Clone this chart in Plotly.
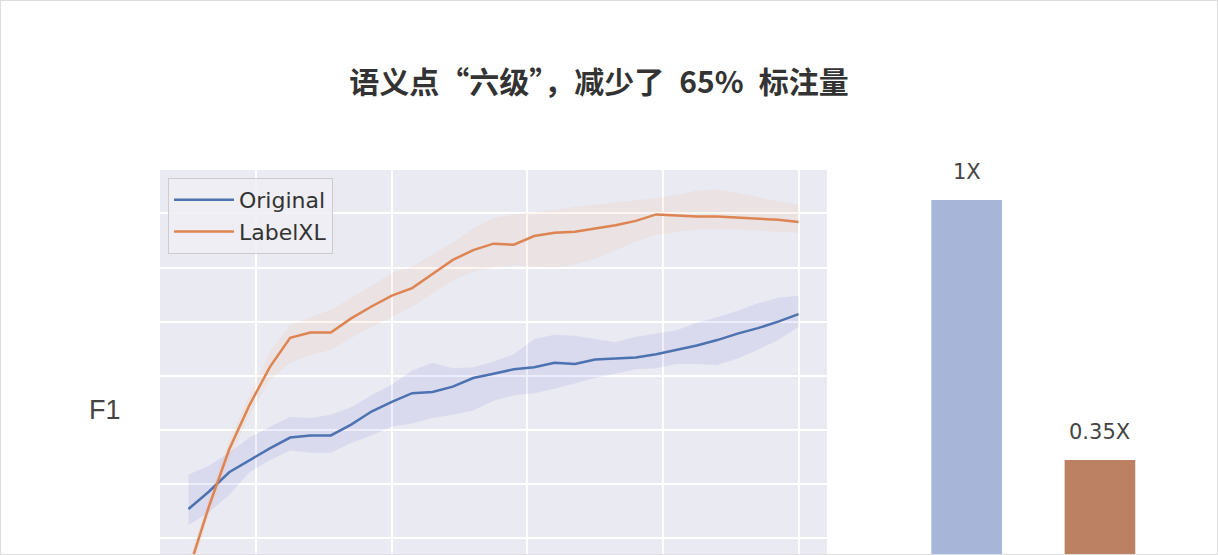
import plotly.graph_objects as go

# x: share of labelled data (%), one point every 3
steps = list(range(10, 101, 3))

original = [47.7, 49.3, 51.1, 52.2, 53.3, 54.3, 54.5, 54.5, 55.5, 56.7, 57.6, 58.4, 58.5, 59.0, 59.8, 60.2,
            60.6, 60.8, 61.2, 61.1, 61.5, 61.6, 61.7, 62.0, 62.4, 62.8, 63.3, 63.9, 64.4, 65.0, 65.7]
original_hi = [50.9, 51.7, 52.9, 54.3, 55.3, 56.2, 56.1, 56.4, 57.1, 58.2, 59.2, 60.5, 61.2, 60.7, 60.8, 61.3,
               62.0, 63.4, 63.8, 63.7, 63.4, 63.1, 63.6, 63.9, 64.2, 64.9, 65.4, 66.0, 66.7, 67.2, 67.4]
original_lo = [46.2, 47.4, 49.0, 51.1, 52.2, 53.1, 52.9, 52.9, 53.8, 54.5, 55.3, 55.6, 56.1, 56.4, 56.8, 57.7,
               58.2, 58.4, 58.8, 59.3, 59.8, 60.2, 60.6, 60.7, 61.1, 61.1, 61.0, 61.6, 62.4, 63.3, 64.5]

labelxl = [42.0, 47.9, 53.2, 57.3, 60.8, 63.5, 64.0, 64.0, 65.3, 66.4, 67.4, 68.1, 69.4, 70.7, 71.6, 72.2,
           72.1, 72.9, 73.2, 73.3, 73.6, 73.9, 74.3, 74.9, 74.8, 74.7, 74.7, 74.6, 74.5, 74.4, 74.2]
labelxl_hi = [42.8, 48.7, 54.0, 58.2, 62.2, 64.7, 65.4, 66.1, 67.2, 68.3, 69.5, 70.1, 71.2, 72.3, 73.6, 74.6,
              74.9, 75.1, 75.3, 75.6, 75.8, 76.0, 76.2, 76.4, 76.7, 77.1, 77.2, 76.9, 76.5, 76.1, 75.8]
labelxl_lo = [41.2, 47.1, 52.2, 56.4, 59.6, 61.2, 61.9, 62.4, 63.5, 64.5, 65.4, 66.4, 67.6, 68.8, 69.6, 70.0,
              70.2, 70.1, 70.0, 70.3, 70.8, 71.6, 72.4, 73.0, 73.3, 73.5, 73.5, 73.5, 73.4, 73.3, 73.2]

# annotation cost, relative
cost_names = ["Original", "LabelXL"]
cost_values = [1.0, 0.35]
cost_labels = ["1X", "0.35X"]

W, H = 1218, 555
fig = go.Figure()

# shaded bands first so the lines sit on top
fig.add_trace(go.Scatter(x=steps + steps[::-1], y=original_hi + original_lo[::-1],
                         fill="toself", fillcolor="rgba(110,110,220,0.12)",
                         line=dict(width=0), hoverinfo="skip", showlegend=False))
fig.add_trace(go.Scatter(x=steps + steps[::-1], y=labelxl_hi + labelxl_lo[::-1],
                         fill="toself", fillcolor="rgba(240,175,120,0.12)",
                         line=dict(width=0), hoverinfo="skip", showlegend=False))
fig.add_trace(go.Scatter(x=steps, y=original, mode="lines", name="Original",
                         line=dict(color="#4C72B0", width=2.5)))
fig.add_trace(go.Scatter(x=steps, y=labelxl, mode="lines", name="LabelXL",
                         line=dict(color="#DD8452", width=2.5)))

fig.add_trace(go.Bar(x=cost_names, y=cost_values, marker_color=["#A7B6D8", "#BC8062"],
                     marker_line_width=0, xaxis="x2", yaxis="y2", showlegend=False))

for name, val, lab in zip(cost_names, cost_values, cost_labels):
    fig.add_annotation(x=name, y=val, xref="x2", yref="y2", text=lab, showarrow=False,
                       yanchor="bottom", yshift=14,
                       font=dict(family="DejaVu Sans", size=21, color="#444444"))

fig.add_annotation(x=105 / W, y=1 - 410 / H, xref="paper", yref="paper", text="F1",
                   xanchor="center", yanchor="middle", showarrow=False,
                   font=dict(family="Liberation Sans, Arial", size=27, color="#444444"))

# seaborn-ish grey panel only behind the line chart
fig.add_shape(type="rect", xref="x domain", yref="y domain", x0=0, y0=0, x1=1, y1=1,
              fillcolor="#EAEAF2", line=dict(width=0), layer="below")

# light frame round the picture
fig.add_shape(type="rect", xref="paper", yref="paper", x0=0, y0=0, x1=1, y1=1,
              line=dict(color="#DDDDDD", width=2))

title_txt = "语义点“六级”，减少了\u200265%\u2002标注量"

fig.update_layout(
    width=W, height=H,
    margin=dict(l=0, r=0, t=0, b=0),
    paper_bgcolor="white",
    plot_bgcolor="white",
    title=dict(text=title_txt, x=599 / W, y=1 - 82 / H,
               xanchor="center", yanchor="middle",
               font=dict(family="Noto Sans CJK SC", size=30, color="#333333", weight="bold")),
    xaxis=dict(domain=[160 / W, 827 / W], range=[5.8, 104.2], tickvals=[20, 40, 60, 80, 100],
               showticklabels=False, showgrid=True, gridcolor="white", gridwidth=2,
               zeroline=False, showline=False, ticks=""),
    yaxis=dict(domain=[0, 1 - 170 / H], range=[43.46, 79.0], dtick=5, tick0=45,
               showticklabels=False, showgrid=True, gridcolor="white", gridwidth=2,
               zeroline=False, showline=False, ticks=""),
    xaxis2=dict(domain=[900 / W, 1166.6 / W], range=[-0.5, 1.5], anchor="y2",
                showticklabels=False, showgrid=False, zeroline=False, showline=False),
    yaxis2=dict(domain=[0, 1], range=[0.1125, 1.5], anchor="x2",
                showticklabels=False, showgrid=False, zeroline=False, showline=False),
    bargap=0.47,
    legend=dict(x=168 / W, y=1 - 178 / H, xanchor="left", yanchor="top", itemwidth=60,
                bgcolor="rgba(238,238,244,0.9)", bordercolor="#CCCCCC", borderwidth=1,
                font=dict(family="DejaVu Sans", size=22, color="#333333")),
)

# the page is 1218x555 too, so drop the browser's default body margin
fig.write_html("out.html", config={"displayModeBar": False},
               post_script="document.body.style.margin='0';document.body.style.overflow='hidden';")
